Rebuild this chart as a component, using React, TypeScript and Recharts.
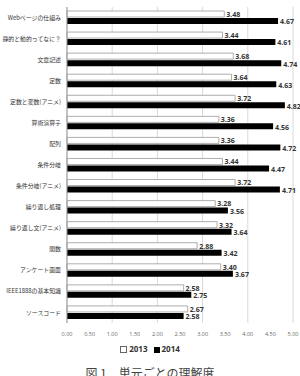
import { BarChart, Bar, XAxis, YAxis, CartesianGrid, LabelList } from "recharts";

const topics = [
  "Webページの仕組み",
  "静的と動的ってなに？",
  "文章記述",
  "定数",
  "定数と変数(アニメ)",
  "算術演算子",
  "配列",
  "条件分岐",
  "条件分岐(アニメ)",
  "繰り返し処理",
  "繰り返し文(アニメ)",
  "関数",
  "アンケート画面",
  "IEEE1888の基本知識",
  "ソースコード",
];

const y2013 = [3.48, 3.44, 3.68, 3.64, 3.72, 3.36, 3.36, 3.44, 3.72, 3.28, 3.32, 2.88, 3.4, 2.58, 2.67];
const y2014 = [4.67, 4.61, 4.74, 4.63, 4.82, 4.56, 4.72, 4.47, 4.71, 3.56, 3.64, 3.42, 3.67, 2.75, 2.58];

const xTicks = [0, 0.5, 1, 1.5, 2, 2.5, 3, 3.5, 4, 4.5, 5];

const data = topics.map((t, i) => ({ topic: t, a: y2013[i], b: y2014[i] }));

const jp = '"Noto Sans CJK JP", sans-serif';
const num = '"Open Sans", "Liberation Sans", sans-serif';

const valueLabel = (dy: number) => (p: any) => {
  const { x, y, width, height, value } = p;
  return (
    <text
      x={x + width + 2}
      y={y + height / 2 + dy}
      fontSize={7}
      fontWeight={700}
      fontFamily={num}
      fill="#333"
      dominantBaseline="middle"
    >
      {Number(value).toFixed(2)}
    </text>
  );
};

export default function App() {
  return (
    <div style={{ position: "absolute", left: 0, top: 0, width: 300, height: 376, background: "#fff", overflow: "hidden" }}>
      <BarChart
        width={300}
        height={340}
        data={data}
        layout="vertical"
        margin={{ top: 7, right: 7, left: 0, bottom: 0 }}
        barSize={6}
        barGap={1}
      >
        <CartesianGrid horizontal={false} stroke="#d9d9d9" />
        <XAxis
          type="number"
          domain={[0, 5]}
          ticks={xTicks}
          height={17}
          tickFormatter={(v: number) => v.toFixed(2)}
          tick={{ fontSize: 5.5, fill: "#666", fontFamily: num }}
          axisLine={false}
          tickLine={false}
          tickMargin={3}
        />
        <YAxis
          type="category"
          dataKey="topic"
          width={67}
          interval={0}
          tickLine={false}
          tickSize={3}
          tickMargin={3}
          axisLine={{ stroke: "#999" }}
          tick={{ fontSize: 5.9, fill: "#333", fontFamily: jp }}
        />
        <Bar dataKey="a" name="2013" fill="#fff" stroke="#999" strokeWidth={0.8} isAnimationActive={false}>
          <LabelList dataKey="a" content={valueLabel(1)} />
        </Bar>
        <Bar dataKey="b" name="2014" fill="#000" isAnimationActive={false}>
          <LabelList dataKey="b" content={valueLabel(1.5)} />
        </Bar>
      </BarChart>
      <div
        style={{
          position: "absolute",
          top: 343,
          left: 0,
          width: 300,
          textAlign: "center",
          fontFamily: num,
          fontWeight: 700,
          fontSize: 8,
          color: "#333",
        }}
      >
        <span style={{ display: "inline-block", width: 5, height: 5, border: "0.8px solid #666", marginRight: 2, verticalAlign: "middle" }} />
        2013
        <span style={{ display: "inline-block", width: 6, height: 6, background: "#000", marginLeft: 6, marginRight: 2, verticalAlign: "middle" }} />
        2014
      </div>
      <div
        style={{
          position: "absolute",
          top: 364,
          left: 0,
          width: 300,
          textAlign: "center",
          fontFamily: jp,
          fontSize: 12,
          color: "#444",
          whiteSpace: "nowrap",
        }}
      >
        図 1　単元ごとの理解度
      </div>
    </div>
  );
}
